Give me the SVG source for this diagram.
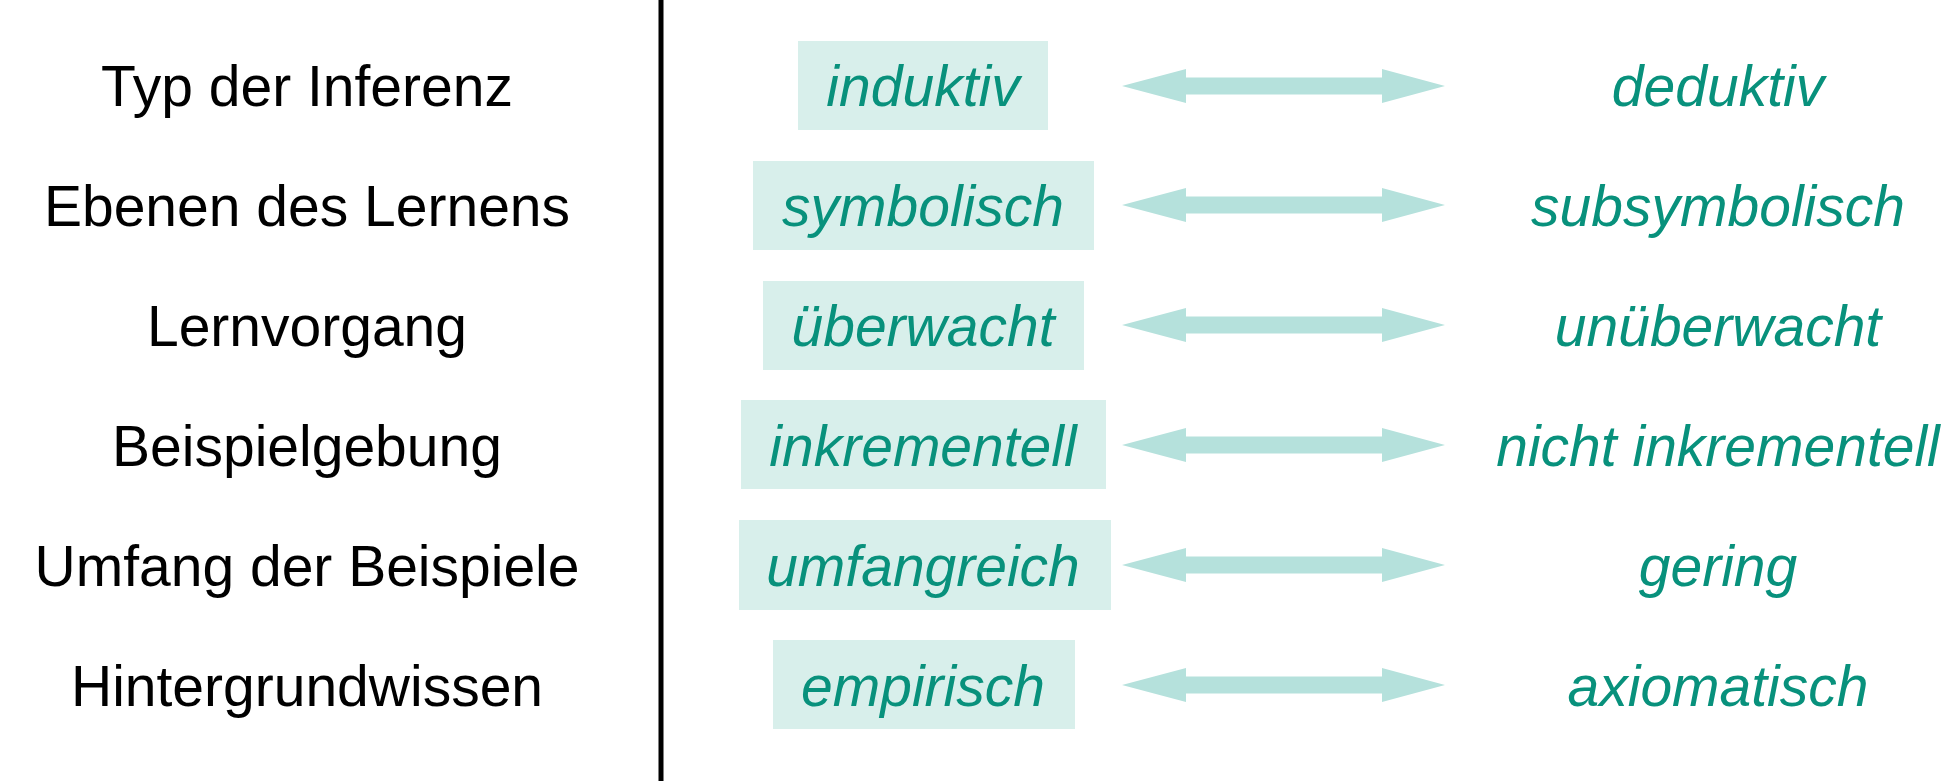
<svg xmlns="http://www.w3.org/2000/svg" width="1956" height="781" viewBox="0 0 1956 781">
<defs>
<style>
.lbl{font-family:"Liberation Sans",Arial,sans-serif;font-size:57px;fill:#000;text-anchor:middle}
.val{font-family:"Liberation Sans",Arial,sans-serif;font-size:57px;font-style:italic;fill:#08917c;text-anchor:middle}
.box{fill:#d8efeb}
.arr{fill:#b5e1dc}
</style>
<path id="dbl" d="M1122,0 L1186,-17 L1186,-8.5 L1382,-8.5 L1382,-17 L1445,0 L1382,17 L1382,8.5 L1186,8.5 L1186,17 Z"/>
</defs>
<rect width="1956" height="781" fill="#fff"/>
<line x1="661" y1="0" x2="661" y2="781" stroke="#000" stroke-width="5"/>
<g id="row1">
<text class="lbl" x="307" y="106">Typ der Inferenz</text>
<rect class="box" x="798" y="41" width="250" height="89"/>
<text class="val" x="923" y="106">induktiv</text>
<text class="val" x="1718" y="106">deduktiv</text>
</g>
<g id="row2">
<text class="lbl" x="307" y="226">Ebenen des Lernens</text>
<rect class="box" x="753" y="161" width="341" height="89"/>
<text class="val" x="923" y="226">symbolisch</text>
<text class="val" x="1718" y="226">subsymbolisch</text>
</g>
<g id="row3">
<text class="lbl" x="307" y="346">Lernvorgang</text>
<rect class="box" x="763" y="281" width="321" height="89"/>
<text class="val" x="923" y="346">überwacht</text>
<text class="val" x="1718" y="346">unüberwacht</text>
</g>
<g id="row4">
<text class="lbl" x="307" y="466">Beispielgebung</text>
<rect class="box" x="741" y="400" width="365" height="89"/>
<text class="val" x="923" y="466">inkrementell</text>
<text class="val" x="1718" y="466">nicht inkrementell</text>
</g>
<g id="row5">
<text class="lbl" x="307" y="586">Umfang der Beispiele</text>
<rect class="box" x="739" y="520" width="372" height="90"/>
<text class="val" x="923" y="586">umfangreich</text>
<text class="val" x="1718" y="586">gering</text>
</g>
<g id="row6">
<text class="lbl" x="307" y="706">Hintergrundwissen</text>
<rect class="box" x="773" y="640" width="302" height="89"/>
<text class="val" x="923" y="706">empirisch</text>
<text class="val" x="1718" y="706">axiomatisch</text>
</g>
<g id="connectors" class="arr">
<use href="#dbl" y="86"/>
<use href="#dbl" y="205"/>
<use href="#dbl" y="325"/>
<use href="#dbl" y="445"/>
<use href="#dbl" y="565"/>
<use href="#dbl" y="685"/>
</g>
</svg>
